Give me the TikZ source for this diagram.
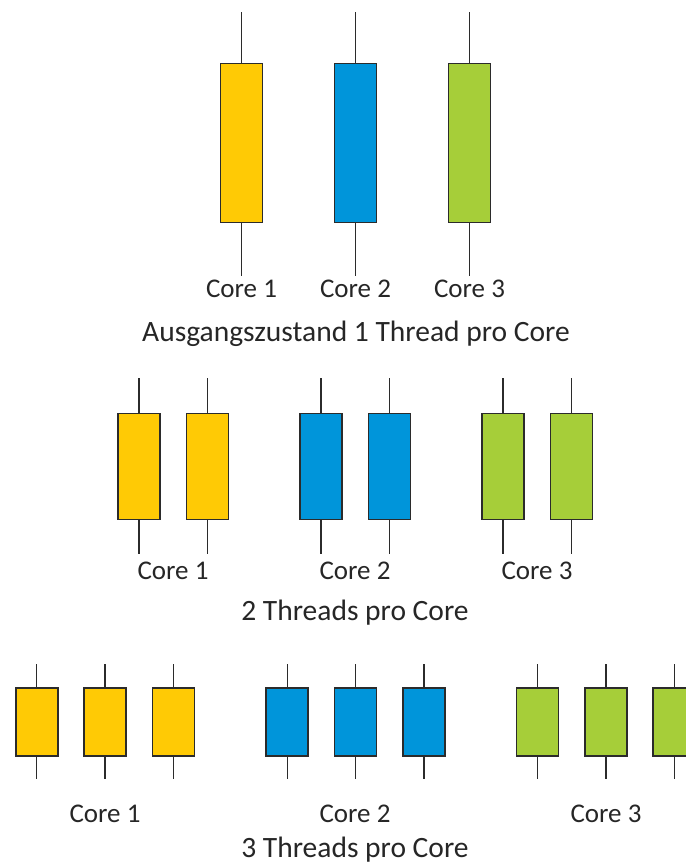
\documentclass[tikz,border=0pt]{standalone}
\usepackage{fontspec}
\setmainfont{Carlito}
\usetikzlibrary{positioning}
\definecolor{coreyellow}{HTML}{FFCA05}
\definecolor{coreblue}{HTML}{0095DA}
\definecolor{coregreen}{HTML}{A6CE39}
\definecolor{edgegray}{HTML}{2B2B2B}
\definecolor{textgray}{HTML}{262626}
\tikzset{thread/.style = {draw=edgegray, line width=1.6pt, minimum width=42pt, inner sep=0pt}}
\tikzset{whisker/.style = {draw=edgegray, line width=1.4pt}}
\tikzset{corelabel/.style = {anchor=base, inner sep=0pt, text=textgray, font=\fontsize{27}{32}\selectfont}}
\tikzset{caption/.style = {corelabel, font=\fontsize{29.5}{35}\selectfont}}

\begin{document}
\begin{tikzpicture}[x=1pt, y=-1pt]
  \clip (0,0) rectangle (686,863);
  % 1 thread per core
  \foreach \x/\c/\n in {241.5/coreyellow/1, 355.5/coreblue/2, 469.5/coregreen/3} {
    \node [thread, fill=\c, minimum height=159pt] (a\n) at (\x,143) {};
    \draw [whisker] (a\n.north) -- +(0,-51);
    \draw [whisker] (a\n.south) -- +(0,53);
    \node [corelabel] (la\n) at (\x,297) {Core \n};
  }
  \node [caption] (capa) at (356,341.5) {Ausgangszustand 1 Thread pro Core};

  % 2 threads per core
  \foreach \x/\c/\n in {139/coreyellow/1, 207.5/coreyellow/2, 321/coreblue/3, 389.5/coreblue/4, 503/coregreen/5, 571.5/coregreen/6} {
    \node [thread, fill=\c, minimum height=106pt] (b\n) at (\x,466.5) {};
    \draw [whisker] (b\n.north) -- +(0,-35);
    \draw [whisker] (b\n.south) -- +(0,34);
  }
  \foreach \x/\n in {173/1, 355/2, 537/3}
    \node [corelabel] (lb\n) at (\x,579) {Core \n};
  \node [caption] (capb) at (355,620) {2 Threads pro Core};

  % 3 threads per core
  \foreach \x/\c/\n in {36.7/coreyellow/1, 105.1/coreyellow/2, 173.5/coreyellow/3, 287.2/coreblue/4, 355.6/coreblue/5, 424/coreblue/6, 537.4/coregreen/7, 605.8/coregreen/8, 674.2/coregreen/9} {
    \node [thread, fill=\c, minimum height=68pt] (c\n) at (\x,722) {};
    \draw [whisker] (c\n.north) -- +(0,-23);
    \draw [whisker] (c\n.south) -- +(0,22);
  }
  \foreach \x/\n in {105/1, 355/2, 606/3}
    \node [corelabel] (lc\n) at (\x,822) {Core \n};
  \node [caption] (capc) at (355,857) {3 Threads pro Core};
\end{tikzpicture}
\end{document}
